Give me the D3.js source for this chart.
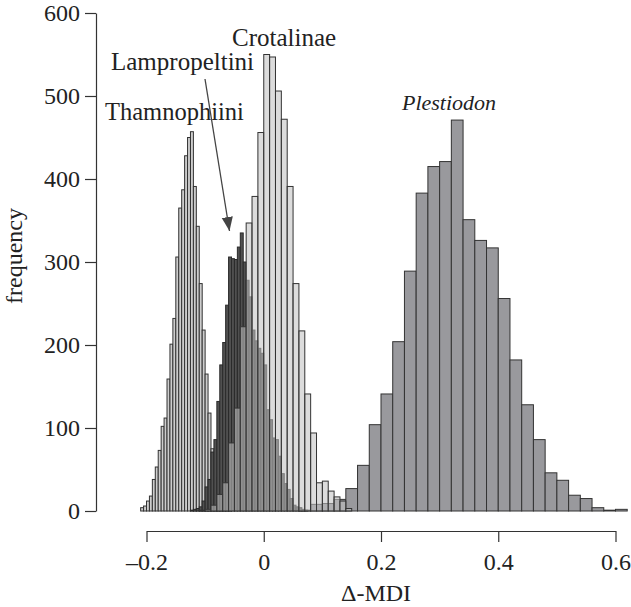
<!DOCTYPE html>
<html>
<head>
<meta charset="utf-8">
<script src="https://cdn.jsdelivr.net/npm/d3@7/dist/d3.min.js"></script>
<style>
  html, body { margin: 0; padding: 0; background: #fff; }
  svg { display: block; }
  text { font-family: "Liberation Serif", "Times New Roman", serif; fill: #222; }
</style>
</head>
<body>
<svg id="chart" width="631" height="607"></svg>
<script>
// ---- data (histogram bin counts) ----
const thamStart = -0.21, thamWidth = 0.005;
const thamnophiini = [4, 6, 12, 18, 38, 53, 73, 102, 112, 159, 201, 232, 306, 365, 387, 428, 450, 457,
  391, 343, 274, 218, 165, 118, 75, 40, 20, 8, 4, 2, 1];

const lampStart = -0.125, lampWidth = 0.005;
const lampropeltini = [1, 2, 3, 5, 12, 29, 38, 71, 86, 132, 176, 203, 248, 306, 304, 303, 318, 335,
  300, 278, 258, 218, 205, 196, 190, 176, 122, 110, 88, 86, 66, 45, 33, 26, 15, 7, 5, 4, 2, 1];

const crotStart = -0.11, crotWidth = 0.01;
const crotalinae = [1, 2, 7, 20, 34, 82, 124, 222, 347, 379, 456, 550, 547, 506, 472, 391, 274, 217,
  141, 94, 34, 36, 24, 17, 12, 3];

const plesStart = 0.06, plesWidth = 0.02;
const plestiodon = [1, 8, 9, 14, 27, 55, 104, 141, 204, 289, 383, 415, 421, 471, 351, 326, 317, 256,
  182, 128, 86, 46, 37, 19, 15, 4, 1, 2];

const xTicks = [-0.2, 0, 0.2, 0.4, 0.6];
const xTickLabels = ["\u20130.2", "0", "0.2", "0.4", "0.6"];
const yTicks = [0, 100, 200, 300, 400, 500, 600];
const seriesLabels = ["Thamnophiini", "Lampropeltini", "Crotalinae", "Plestiodon"];

// ---- layout ----
const svg = d3.select("#chart");
const x = d3.scaleLinear().domain([-0.2, 0.6]).range([146.5, 615.5]);
const y = d3.scaleLinear().domain([0, 600]).range([511, 13]);

function toBins(start, width, counts) {
  return counts.map((c, i) => ({ x0: start + i * width, x1: start + (i + 1) * width, n: c }));
}

function drawHist(bins, fill, stroke, opacity) {
  svg.append("g")
    .selectAll("rect")
    .data(bins)
    .join("rect")
    .attr("x", d => x(d.x0))
    .attr("width", d => x(d.x1) - x(d.x0))
    .attr("y", d => y(d.n))
    .attr("height", d => y(0) - y(d.n))
    .attr("fill", fill)
    .attr("fill-opacity", opacity)
    .attr("stroke", stroke)
    .attr("stroke-width", 1);
}

drawHist(toBins(plesStart, plesWidth, plestiodon), "#99999d", "#333", 1);
drawHist(toBins(thamStart, thamWidth, thamnophiini), "#cdcdcd", "#333", 1);
drawHist(toBins(lampStart, lampWidth, lampropeltini), "#505050", "#2a2a2a", 1);
drawHist(toBins(crotStart, crotWidth, crotalinae), "#c1c1c1", "#333", 0.57);

// ---- axes ----
const yAxis = d3.axisLeft(y).tickValues(yTicks).tickSize(11).tickSizeOuter(0).tickPadding(5)
  .tickFormat(d3.format("d"));
const gy = svg.append("g").attr("transform", "translate(96,0)").call(yAxis);

const xAxis = d3.axisBottom(x).tickValues(xTicks).tickSize(11).tickSizeOuter(0).tickPadding(11)
  .tickFormat((d, i) => xTickLabels[i]);
const gx = svg.append("g").attr("transform", "translate(0,531)").call(xAxis);

[gx, gy].forEach(g => {
  g.selectAll("path, line").attr("stroke", "#333").attr("stroke-width", 1.2);
  g.selectAll("text").attr("font-size", 24).attr("fill", "#222")
    .attr("font-family", "Liberation Serif, Times New Roman, serif");
});

// axis titles
svg.append("text").attr("x", 376).attr("y", 601).attr("text-anchor", "middle")
  .attr("font-size", 24).text("\u0394-MDI");
svg.append("text").attr("transform", "translate(22,256) rotate(-90)").attr("text-anchor", "middle")
  .attr("font-size", 24).text("frequency");

// ---- series labels ----
svg.append("text").attr("x", 105).attr("y", 120).attr("font-size", 24.5).text(seriesLabels[0]);
svg.append("text").attr("x", 111).attr("y", 70).attr("font-size", 25).text(seriesLabels[1]);
svg.append("text").attr("x", 232).attr("y", 46).attr("font-size", 25).text(seriesLabels[2]);
svg.append("text").attr("x", 449).attr("y", 110).attr("text-anchor", "middle")
  .attr("font-size", 22).attr("font-style", "italic").text(seriesLabels[3]);

// arrow from Lampropeltini label to its histogram
const defs = svg.append("defs");
defs.append("marker").attr("id", "ah").attr("viewBox", "0 0 10 10")
  .attr("refX", 10).attr("refY", 5).attr("markerWidth", 14).attr("markerHeight", 14)
  .attr("markerUnits", "userSpaceOnUse").attr("orient", "auto")
  .append("path").attr("d", "M0,1L10,5L0,9Z").attr("fill", "#444");
svg.append("line").attr("x1", 205).attr("y1", 79).attr("x2", 229.5).attr("y2", 231)
  .attr("stroke", "#444").attr("stroke-width", 1.3).attr("marker-end", "url(#ah)");
</script>
</body>
</html>
